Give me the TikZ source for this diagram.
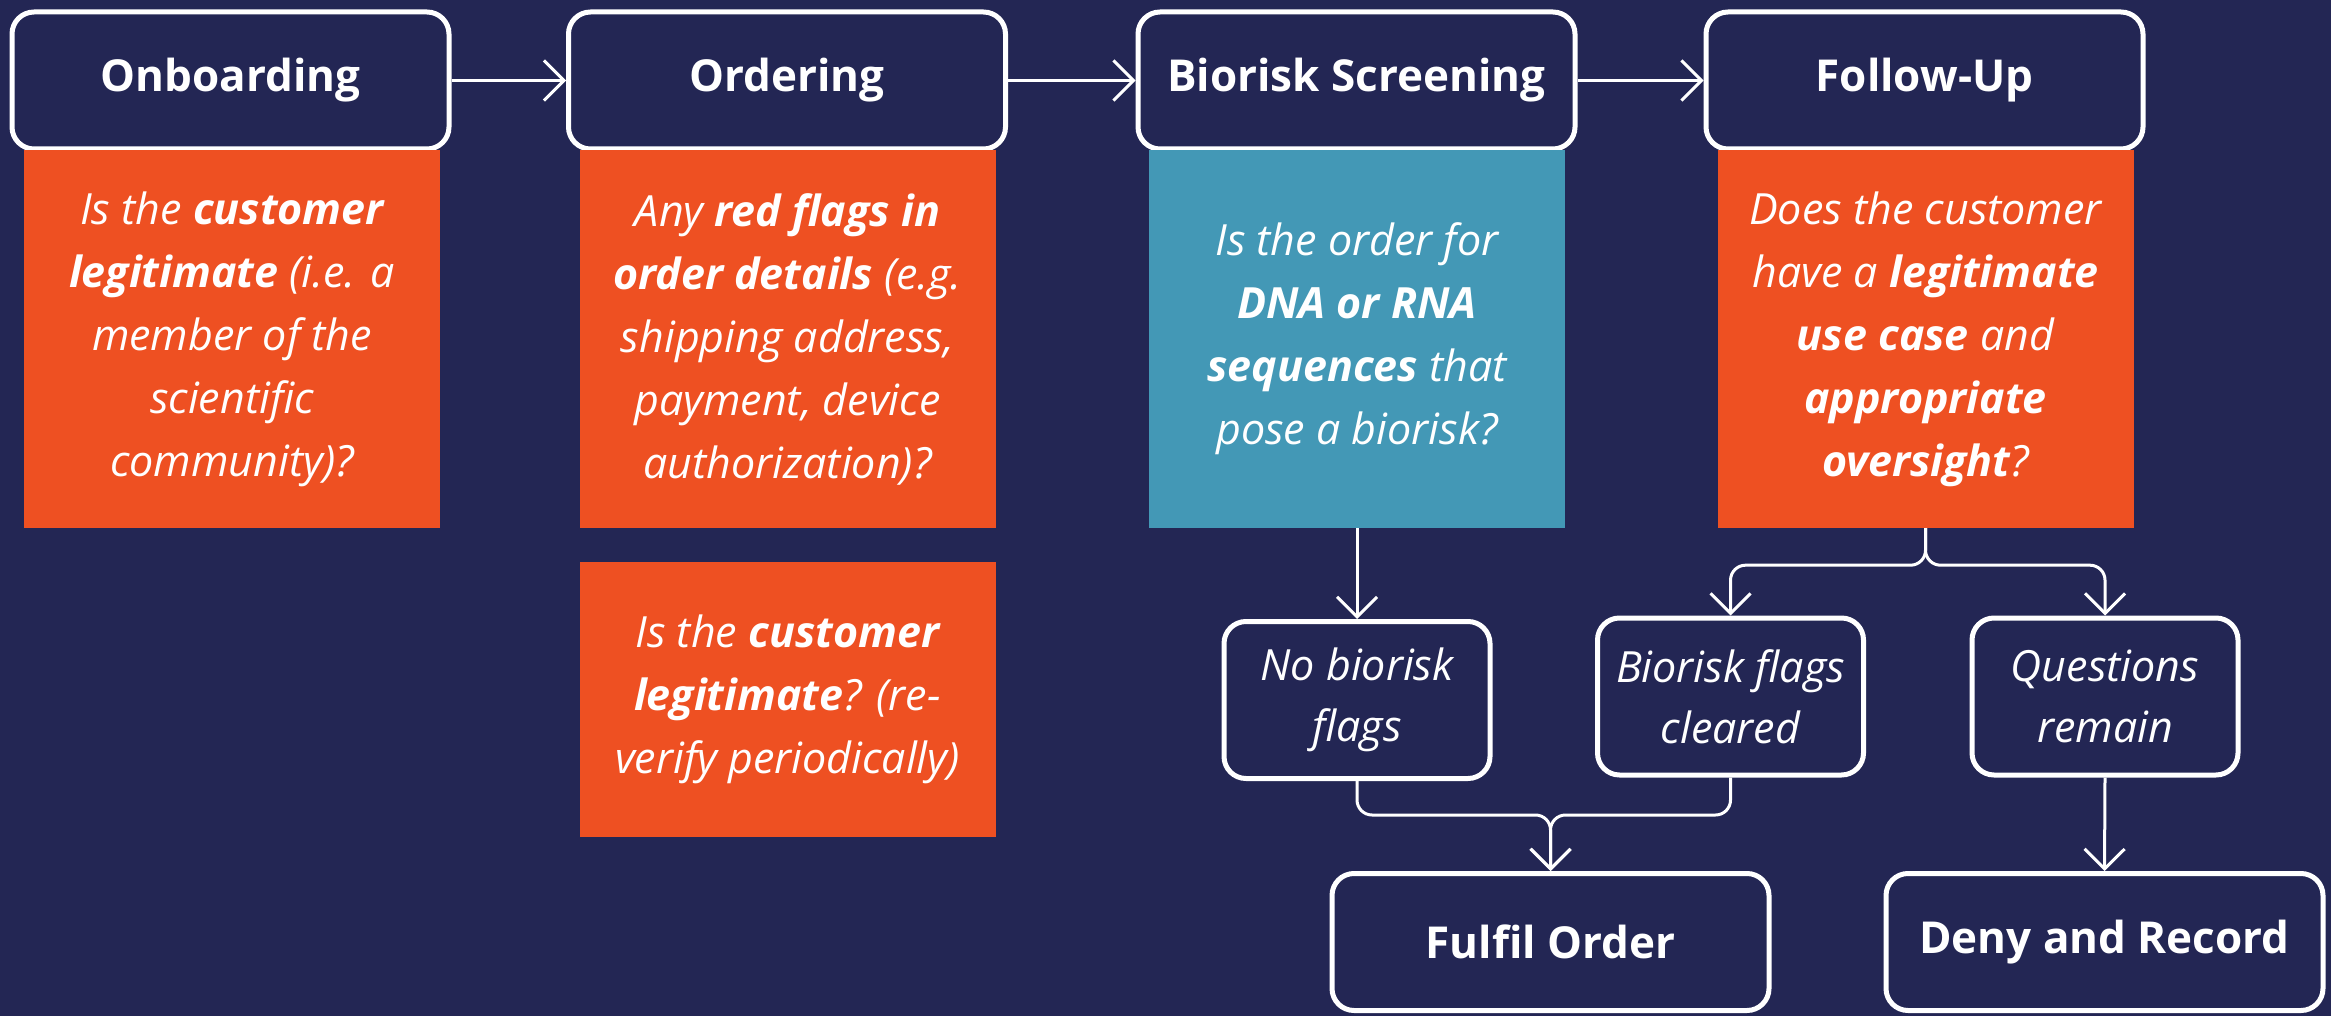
\documentclass[tikz,border=0pt]{standalone}
\usepackage{fontspec}
\setmainfont{Open Sans}
\usetikzlibrary{arrows.meta}
\definecolor{navy}{HTML}{232654}
\definecolor{orng}{HTML}{EE5022}
\definecolor{tealq}{HTML}{4398B6}
\tikzset{
  hdr/.style={draw=white, line width=5pt, rounded corners=22pt, fill=navy, text=white,
    minimum width=437pt, minimum height=137pt, inner sep=0pt,
    font=\fontsize{44}{60}\selectfont\bfseries},
  qbox/.style={fill=orng, text=white, minimum width=416pt, inner sep=0pt, align=center,
    font=\fontsize{43}{63}\selectfont\itshape},
  obox/.style={draw=white, line width=5pt, rounded corners=22pt, fill=navy, text=white,
    minimum width=266pt, minimum height=157pt, inner sep=0pt, align=center,
    font=\fontsize{43}{61}\selectfont\itshape},
  conn/.style={draw=white, line width=3pt, -{Straight Barb[length=20pt,width=40pt,line width=3pt]}},
}
\begin{document}
\begin{tikzpicture}[x=1pt,y=-1pt]
\fill[navy] (0,0) rectangle (2331,1016);
\useasboundingbox (0,0) rectangle (2331,1016);

\node[hdr] (h1) at (230.5,80.5) {Onboarding};
\node[hdr] (h2) at (787,80.5) {Ordering};
\node[hdr] (h3) at (1356.5,80.5) {Biorisk Screening};
\node[hdr] (h4) at (1924.5,80.5) {Follow-Up};

\node[qbox, minimum height=378pt] (q1) at (232,339)
  {Is the \textbf{customer}\\\textbf{legitimate} (i.e. a\\member of the\\scientific\\community)?};
\node[qbox, minimum height=378pt] (q2) at (787.5,339)
  {Any \textbf{red flags in}\\\textbf{order details} (e.g.\\shipping address,\\payment, device\\authorization)?};
\node[qbox, minimum height=275pt] (q3) at (787.5,699.5)
  {Is the \textbf{customer}\\\textbf{legitimate}? (re-\\verify periodically)};
\node[qbox, fill=tealq, minimum height=378pt] (q4) at (1357,339)
  {Is the order for\\\textbf{DNA or RNA}\\\textbf{sequences} that\\pose a biorisk?};
\node[qbox, minimum height=378pt] (q5) at (1925.5,339)
  {Does the customer\\have a \textbf{legitimate}\\\textbf{use case} and\\\textbf{appropriate}\\\textbf{oversight}?};

\node[obox] (nb) at (1357,700) {No biorisk\\flags};
\node[obox] (bc) at (1730.5,696.5) {Biorisk flags\\cleared};
\node[obox] (qr) at (2105,696.5) {Questions\\remain};

\node[hdr] (fo) at (1550.5,942) {Fulfil Order};
\node[hdr] (dr) at (2104.5,942) {Deny and Record};

\coordinate (m) at (1550.5,815);

\draw[conn] (h1) -- (h2);
\draw[conn] (h2) -- (h3);
\draw[conn] (h3) -- (h4);
\draw[conn] (q4.south) -- (nb.north);
\draw[conn, rounded corners=15pt] (q5.south) -- ++(0,37) -| (bc.north);
\draw[conn, rounded corners=15pt] (q5.south) -- ++(0,37) -| (qr.north);
\draw[conn, rounded corners=15pt] (nb.south) |- (m) -- (fo.north);
\draw[conn, rounded corners=15pt] (bc.south) |- (m) -- (fo.north);
\draw[conn] (qr.south) -- (dr.north);
\end{tikzpicture}
\end{document}
